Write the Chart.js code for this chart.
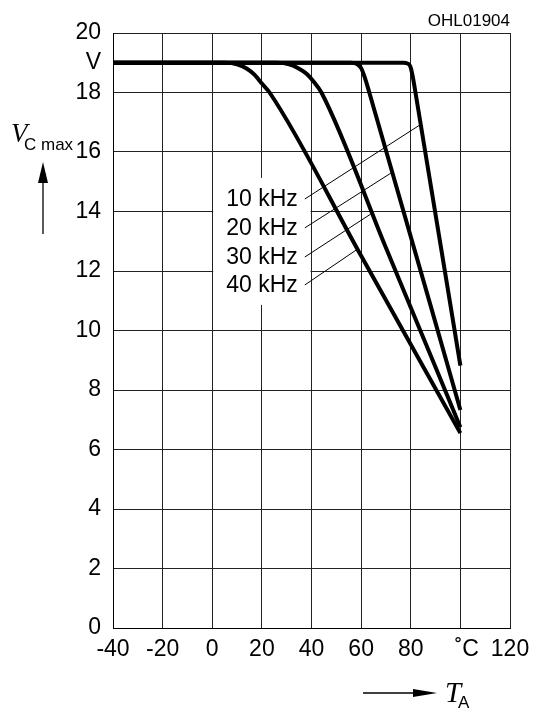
<!DOCTYPE html>
<html>
<head>
<meta charset="utf-8">
<script src="https://cdn.jsdelivr.net/npm/chart.js@4.4.0/dist/chart.umd.min.js"></script>
<style>
  html, body { margin: 0; padding: 0; background: #fff; }
</style>
</head>
<body>
<canvas id="chart" width="540" height="711"></canvas>
<script>
// VC max vs ambient temperature, one curve per switching frequency

const xTicks = [-40, -20, 0, 20, 40, 60, 80, 100, 120];
const xTickLabels = ['-40', '-20', '0', '20', '40', '60', '80', '  \u02DAC', '120'];
const yTicks = [0, 2, 4, 6, 8, 10, 12, 14, 16, 18, 19, 20];
const yTickLabels = ['0', '2', '4', '6', '8', '10', '12', '14', '16', '18', 'V', '20'];

const freqLabels = ['10 kHz', '20 kHz', '30 kHz', '40 kHz'];

const temp10k = [-40, 77, 78.8, 79.8, 80.4, 81.0, 81.9, 100];
const volt10k = [19, 19, 18.97, 18.88, 18.7, 18.45, 18.0, 8.82];

const temp20k = [-40, 56, 58.5, 60, 61.5, 63.3, 100];
const volt20k = [19, 19, 18.95, 18.82, 18.5, 18.0, 7.33];

const temp30k = [-40, 26, 31, 35, 38, 41, 44, 70, 100];
const volt30k = [19, 19, 18.95, 18.8, 18.63, 18.35, 18.0, 12.78, 6.75];

const temp40k = [-40, 5, 10, 14, 17, 20, 23.1, 60, 100];
const volt40k = [19, 19, 18.95, 18.8, 18.6, 18.3, 18.0, 12.51, 6.55];

// leader lines from the frequency labels to their curves
const leaderStartT = [37.3, 37.3, 37.3, 37.3];
const leaderStartV = [14.42, 13.45, 12.47, 11.53];
const leaderEndT = [83.7, 72.0, 63.8, 58.1];
const leaderEndV = [16.91, 15.29, 13.91, 12.71];

const curveTemps = [temp10k, temp20k, temp30k, temp40k];
const curveVolts = [volt10k, volt20k, volt30k, volt40k];

const SANS = '"Liberation Sans", Arial, sans-serif';
const SERIF = '"Liberation Serif", "Times New Roman", serif';

function toPoints(xs, ys) {
  return xs.map((x, i) => ({ x: x, y: ys[i] }));
}

const curveSets = curveTemps.map((t, i) => ({
  label: freqLabels[i],
  data: toPoints(t, curveVolts[i]),
  borderColor: '#000',
  borderWidth: 4,
  pointRadius: 0,
  cubicInterpolationMode: 'monotone',
  borderJoinStyle: 'round'
}));

const leaderSets = freqLabels.map((f, i) => ({
  label: f + ' leader',
  data: [{ x: leaderStartT[i], y: leaderStartV[i] }, { x: leaderEndT[i], y: leaderEndV[i] }],
  borderColor: '#000',
  borderWidth: 1,
  pointRadius: 0,
  tension: 0
}));

function arrow(ctx, x1, y1, x2, y2, headLen, headHalf) {
  const ang = Math.atan2(y2 - y1, x2 - x1);
  const bx = x2 - headLen * Math.cos(ang);
  const by = y2 - headLen * Math.sin(ang);
  ctx.beginPath();
  ctx.moveTo(x1, y1);
  ctx.lineTo(bx, by);
  ctx.stroke();
  ctx.beginPath();
  ctx.moveTo(x2, y2);
  ctx.lineTo(bx + headHalf * Math.sin(ang), by - headHalf * Math.cos(ang));
  ctx.lineTo(bx - headHalf * Math.sin(ang), by + headHalf * Math.cos(ang));
  ctx.closePath();
  ctx.fill();
}

const decorPlugin = {
  id: 'decor',
  beforeDatasetsDraw(chart) {
    // white patch behind the frequency labels, cutting the grid
    const { ctx, scales: { x, y } } = chart;
    const l = x.getPixelForValue(0) + 1;
    const r = x.getPixelForValue(40) - 1;
    const t = y.getPixelForValue(15.13);
    const b = y.getPixelForValue(10.86);
    ctx.save();
    ctx.fillStyle = '#fff';
    ctx.fillRect(l, t, r - l, b - t);
    ctx.restore();
  },
  afterDraw(chart) {
    const { ctx, scales: { x, y }, chartArea } = chart;
    ctx.save();
    ctx.fillStyle = '#000';
    ctx.strokeStyle = '#000';

    // frequency labels
    ctx.font = '23px ' + SANS;
    ctx.textAlign = 'right';
    ctx.textBaseline = 'middle';
    freqLabels.forEach((f, i) => {
      ctx.fillText(f, x.getPixelForValue(leaderStartT[i]) - 7, y.getPixelForValue(leaderStartV[i]) + 1);
    });

    // drawing number
    ctx.font = '17px ' + SANS;
    ctx.textAlign = 'right';
    ctx.textBaseline = 'alphabetic';
    ctx.fillText('OHL01904', chartArea.right, 26);

    // y title: V C max with arrow
    ctx.textAlign = 'left';
    ctx.font = 'italic 27px ' + SERIF;
    ctx.fillText('V', 11, 142);
    ctx.font = '17px ' + SANS;
    ctx.fillText('C max', 24, 150);
    ctx.lineWidth = 1.3;
    arrow(ctx, 43, 234, 43, 162, 21, 5);

    // x title: T A with arrow
    arrow(ctx, 363, 693, 437, 693, 24, 4);
    ctx.font = 'italic 29px ' + SERIF;
    ctx.fillText('T', 445, 702);
    ctx.font = '17px ' + SANS;
    ctx.fillText('A', 458, 708);

    ctx.restore();
  }
};

new Chart(document.getElementById('chart'), {
  type: 'line',
  data: { datasets: curveSets.concat(leaderSets) },
  options: {
    responsive: false,
    animation: false,
    layout: { padding: { left: 0, top: 33, right: 30, bottom: 0 } },
    plugins: { legend: { display: false }, tooltip: { enabled: false } },
    scales: {
      x: {
        type: 'linear',
        min: -40,
        max: 120,
        afterBuildTicks: s => { s.ticks = xTicks.map(v => ({ value: v })); },
        afterFit: s => { s.height = 83; },
        ticks: {
          callback: v => xTickLabels[xTicks.indexOf(v)],
          font: { family: SANS, size: 23 },
          color: '#000',
          padding: 8,
          maxRotation: 0,
          autoSkip: false
        },
        grid: { color: '#222', lineWidth: 1, drawTicks: false },
        border: { color: '#000', width: 1 }
      },
      y: {
        type: 'linear',
        min: 0,
        max: 20,
        afterBuildTicks: s => { s.ticks = yTicks.map(v => ({ value: v })); },
        afterFit: s => { s.width = 113; },
        ticks: {
          callback: v => yTickLabels[yTicks.indexOf(v)],
          font: { family: SANS, size: 23 },
          color: '#000',
          padding: 12,
          autoSkip: false
        },
        grid: {
          color: c => (c.tick && c.tick.value === 19) ? 'rgba(0,0,0,0)' : '#222',
          lineWidth: 1,
          drawTicks: false
        },
        border: { color: '#000', width: 1 }
      }
    }
  },
  plugins: [decorPlugin]
});
</script>
</body>
</html>
